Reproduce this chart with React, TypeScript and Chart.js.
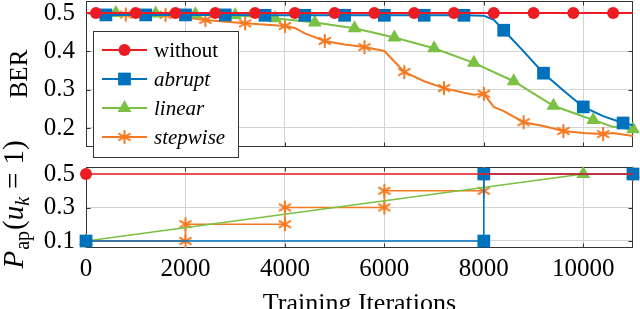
import React, { useEffect, useRef } from "react";
import { Chart, registerables } from "chart.js";
Chart.register(...registerables);

const FONT = '"Liberation Serif", "DejaVu Serif", serif';

const seriesNames = ["without", "abrupt", "linear", "stepwise"];
const seriesColors = ["#ED1C24", "#0072BD", "#7AC143", "#F47920"];

// ---- Top plot: BER vs training iterations ----
const withoutIters = [0, 200, 1000, 1800, 2600, 3400, 4200, 5000, 5800, 6600, 7400, 8200, 9000, 9800, 10600, 11000];
const withoutBer = [0.5, 0.5, 0.5, 0.5, 0.5, 0.5, 0.5, 0.5, 0.5, 0.5, 0.5, 0.5, 0.5, 0.5, 0.5, 0.5];
const withoutMarks = [200, 1000, 1800, 2600, 3400, 4200, 5000, 5800, 6600, 7400, 8200, 9000, 9800, 10600];

const abruptIters = [0, 400, 1200, 2000, 2800, 3600, 4400, 5200, 6000, 6800, 7600, 8000, 8200, 8400, 8800, 9200, 9600, 10000, 10400, 10800, 11000];
const abruptBer = [0.5, 0.495, 0.495, 0.495, 0.495, 0.494, 0.494, 0.494, 0.494, 0.494, 0.494, 0.493, 0.482, 0.455, 0.4, 0.343, 0.298, 0.255, 0.231, 0.213, 0.207];
const abruptMarks = [400, 1200, 2000, 2800, 3600, 4400, 5200, 6000, 6800, 7600, 8400, 9200, 10000, 10800];

const linearIters = [0, 600, 1400, 2200, 3000, 3800, 4600, 5400, 6200, 7000, 7800, 8600, 9400, 10200, 10600, 11000];
const linearBer = [0.5, 0.5, 0.499, 0.497, 0.494, 0.486, 0.475, 0.46, 0.436, 0.408, 0.37, 0.322, 0.258, 0.221, 0.203, 0.197];
const linearMarks = [600, 1400, 2200, 3000, 3800, 4600, 5400, 6200, 7000, 7800, 8600, 9400, 10200, 11000];

const stepwiseIters = [0, 800, 1600, 2400, 3200, 4000, 4200, 4400, 4800, 5200, 5600, 6000, 6400, 6800, 7200, 7600, 7800, 8000, 8200, 8400, 8800, 9200, 9600, 10000, 10400, 10600, 11000];
const stepwiseBer = [0.5, 0.496, 0.495, 0.482, 0.473, 0.466, 0.461, 0.447, 0.427, 0.418, 0.411, 0.401, 0.346, 0.322, 0.304, 0.292, 0.287, 0.289, 0.255, 0.244, 0.215, 0.205, 0.192, 0.187, 0.184, 0.187, 0.179];
const stepwiseMarks = [800, 1600, 2400, 3200, 4000, 4800, 5600, 6400, 7200, 8000, 8800, 9600, 10400];

// ---- Bottom plot: P_ap(u_k = 1) schedules ----
const withoutPIters = [0, 11000];
const withoutP = [0.5, 0.5];
const abruptPIters = [0, 8000, 8000, 11000];
const abruptP = [0.1, 0.1, 0.5, 0.5];
const linearPIters = [0, 10000, 11000];
const linearP = [0.1, 0.5, 0.5];
const stepwisePIters = [0, 2000, 2000, 4000, 4000, 6000, 6000, 8000, 8000, 11000];
const stepwiseP = [0.1, 0.1, 0.2, 0.2, 0.3, 0.3, 0.4, 0.4, 0.5, 0.5];

const xTicks = [0, 2000, 4000, 6000, 8000, 10000];
const berTicks = [0.2, 0.3, 0.4, 0.5];
const pGridTicks = [0.1, 0.2, 0.3, 0.4, 0.5];
const pLabelTicks = [0.1, 0.3, 0.5];

const GRID = "#d4d4d4";
const FRAME = "#333333";

function makeStar(color: string): HTMLCanvasElement {
  const c = document.createElement("canvas");
  c.width = 16;
  c.height = 16;
  const g = c.getContext("2d")!;
  g.strokeStyle = color;
  g.lineWidth = 2;
  g.lineCap = "round";
  const r = 6.2;
  for (let i = 0; i < 3; i++) {
    const a = Math.PI / 2 + (i * Math.PI) / 3;
    g.beginPath();
    g.moveTo(8 + r * Math.cos(a), 8 + r * Math.sin(a));
    g.lineTo(8 - r * Math.cos(a), 8 - r * Math.sin(a));
    g.stroke();
  }
  return c;
}

function pts(xs: number[], ys: number[]) {
  return xs.map((x, i) => ({ x, y: ys[i] }));
}

const framePlugin = {
  id: "frame",
  beforeDatasetsDraw(chart: any) {
    const { ctx, chartArea: a } = chart;
    const L = Math.round(a.left) + 0.5;
    const T = Math.round(a.top) + 0.5;
    const R = Math.round(a.right) - 0.5;
    const B = Math.round(a.bottom) - 0.5;
    ctx.save();
    ctx.strokeStyle = FRAME;
    ctx.lineWidth = 1;
    ctx.strokeRect(L, T, R - L, B - T);
    // inward tick marks
    const tl = 4;
    ctx.beginPath();
    chart.scales.y.ticks.forEach((t: any) => {
      const y = Math.round(chart.scales.y.getPixelForValue(t.value)) + 0.5;
      ctx.moveTo(L, y);
      ctx.lineTo(L + tl, y);
      ctx.moveTo(R, y);
      ctx.lineTo(R - tl, y);
    });
    chart.scales.x.ticks.forEach((t: any) => {
      const x = Math.round(chart.scales.x.getPixelForValue(t.value)) + 0.5;
      ctx.moveTo(x, T);
      ctx.lineTo(x, T + tl);
      ctx.moveTo(x, B);
      ctx.lineTo(x, B - tl);
    });
    ctx.stroke();
    ctx.restore();
  },
};

export default function App() {
  const topRef = useRef<HTMLCanvasElement>(null);
  const botRef = useRef<HTMLCanvasElement>(null);

  useEffect(() => {
    const star = makeStar(seriesColors[3]);
    const styles = ["circle", "rect", "triangle", star] as any[];
    const radii = [6, 9, 8, 6];

    const topSeries = [
      [withoutIters, withoutBer, withoutMarks],
      [abruptIters, abruptBer, abruptMarks],
      [linearIters, linearBer, linearMarks],
      [stepwiseIters, stepwiseBer, stepwiseMarks],
    ] as [number[], number[], number[]][];

    const topDatasets = topSeries.map(([xs, ys, marks], i) => ({
      label: seriesNames[i],
      data: pts(xs, ys),
      borderColor: seriesColors[i],
      backgroundColor: seriesColors[i],
      borderWidth: 2,
      pointStyle: styles[i],
      pointRadius: (c: any) => (c.raw && marks.includes(c.raw.x) ? radii[i] : 0),
      pointBorderWidth: 0,
      pointHoverRadius: 0,
      tension: 0,
      clip: false as any,
    }));

    const botSeries = [
      [withoutPIters, withoutP, [0]],
      [abruptPIters, abruptP, abruptPIters],
      [linearPIters, linearP, linearPIters],
      [stepwisePIters, stepwiseP, stepwisePIters],
    ] as [number[], number[], number[]][];

    const botDatasets = botSeries.map(([xs, ys, marks], i) => ({
      label: seriesNames[i],
      data: pts(xs, ys),
      borderColor: seriesColors[i],
      backgroundColor: seriesColors[i],
      borderWidth: 1.6,
      pointStyle: styles[i],
      pointRadius: (c: any) => (c.raw && marks.includes(c.raw.x) ? radii[i] : 0),
      pointBorderWidth: 0,
      pointHoverRadius: 0,
      tension: 0,
      clip: false as any,
    }));

    const legendPlugin = {
      id: "customLegend",
      afterDraw(chart: any) {
        const ctx = chart.ctx as CanvasRenderingContext2D;
        const bx = 93, by = 31, bw = 145, bh = 126;
        ctx.save();
        ctx.fillStyle = "#ffffff";
        ctx.fillRect(bx, by, bw, bh);
        ctx.strokeStyle = FRAME;
        ctx.lineWidth = 1;
        ctx.strokeRect(bx + 0.5, by + 0.5, bw, bh);
        const rows = [50, 79, 108, 137];
        chart.data.datasets.forEach((ds: any, i: number) => {
          const y = rows[i];
          ctx.strokeStyle = ds.borderColor;
          ctx.lineWidth = 2;
          ctx.beginPath();
          ctx.moveTo(102, y);
          ctx.lineTo(147, y);
          ctx.stroke();
          const cx = 124.5;
          ctx.fillStyle = ds.backgroundColor;
          const st = styles[i];
          const r = radii[i];
          ctx.beginPath();
          if (st === "circle") {
            ctx.arc(cx, y, r, 0, Math.PI * 2);
            ctx.fill();
          } else if (st === "rect") {
            const s = r * Math.SQRT1_2;
            ctx.fillRect(cx - s, y - s, 2 * s, 2 * s);
          } else if (st === "triangle") {
            ctx.moveTo(cx, y - r);
            ctx.lineTo(cx + r * 0.866, y + r * 0.5);
            ctx.lineTo(cx - r * 0.866, y + r * 0.5);
            ctx.closePath();
            ctx.fill();
          } else {
            ctx.drawImage(st, cx - st.width / 2, y - st.height / 2);
          }
          ctx.fillStyle = "#000";
          ctx.font = (i === 0 ? "" : "italic ") + "21px " + FONT;
          ctx.textBaseline = "middle";
          ctx.textAlign = "left";
          ctx.fillText(ds.label, 154, y + 1);
        });
        // y title
        ctx.save();
        ctx.translate(27, (chart.chartArea.top + chart.chartArea.bottom) / 2);
        ctx.rotate(-Math.PI / 2);
        ctx.font = "25px " + FONT;
        ctx.fillStyle = "#000";
        ctx.textAlign = "center";
        ctx.textBaseline = "alphabetic";
        ctx.fillText("BER", 0, 0);
        ctx.restore();
        ctx.restore();
      },
    };

    const botTitles = {
      id: "botTitles",
      afterDraw(chart: any) {
        const ctx = chart.ctx as CanvasRenderingContext2D;
        const a = chart.chartArea;
        ctx.save();
        ctx.fillStyle = "#000";
        ctx.font = "26px " + FONT;
        ctx.textAlign = "center";
        ctx.textBaseline = "alphabetic";
        ctx.fillText("Training Iterations", (a.left + a.right) / 2, 311);
        // rotated math label P_ap(u_k = 1)
        const parts = [
          { t: "P", f: "italic 29px " + FONT, dy: 0, gap: 1 },
          { t: "ap", f: "20px " + FONT, dy: 6, gap: 1 },
          { t: "(", f: "29px " + FONT, dy: 0, gap: 0 },
          { t: "u", f: "italic 29px " + FONT, dy: 0, gap: 0 },
          { t: "k", f: "italic 20px " + FONT, dy: 6, gap: 8 },
          { t: "=", f: "29px " + FONT, dy: 0, gap: 8 },
          { t: "1", f: "29px " + FONT, dy: 0, gap: 0 },
          { t: ")", f: "29px " + FONT, dy: 0, gap: 0 },
        ];
        let total = 0;
        const widths = parts.map((p) => {
          ctx.font = p.f;
          const w = ctx.measureText(p.t).width;
          total += w + p.gap;
          return w;
        });
        ctx.translate(23, (a.top + a.bottom) / 2 - 3);
        ctx.rotate(-Math.PI / 2);
        ctx.textAlign = "left";
        let x = -total / 2;
        parts.forEach((p, i) => {
          ctx.font = p.f;
          ctx.fillText(p.t, x, p.dy);
          x += widths[i] + p.gap;
        });
        ctx.restore();
      },
    };

    const commonX = (showLabels: boolean) => ({
      type: "linear" as const,
      min: 0,
      max: 11000,
      afterBuildTicks: (s: any) => {
        s.ticks = xTicks.map((v) => ({ value: v }));
      },
      afterFit: (s: any) => {
        s.height = showLabels ? 61 : 0;
        s.paddingLeft = 0;
        s.paddingRight = 0;
      },
      grid: { color: GRID, lineWidth: 1, drawTicks: false },
      border: { display: false },
      ticks: {
        display: showLabels,
        font: { family: FONT, size: 25 },
        color: "#000",
        padding: 6,
        maxRotation: 0,
        autoSkip: false,
        callback: (v: any) => String(v),
      },
    });

    const commonY = (min: number, max: number, gridTicks: number[], labelTicks: number[]) => ({
      type: "linear" as const,
      min,
      max,
      afterBuildTicks: (s: any) => {
        s.ticks = gridTicks.map((v) => ({ value: v }));
      },
      afterFit: (s: any) => {
        s.width = 86;
        s.paddingTop = 0;
        s.paddingBottom = 0;
      },
      grid: { color: GRID, lineWidth: 1, drawTicks: false },
      border: { display: false },
      ticks: {
        font: { family: FONT, size: 25 },
        color: "#000",
        padding: 11,
        callback: (v: any) => {
          const n = Number(v);
          return labelTicks.some((t) => Math.abs(t - n) < 1e-6) ? n.toFixed(1) : "";
        },
      },
    });

    const topChart = new Chart(topRef.current!, {
      type: "line",
      data: { datasets: topDatasets as any },
      options: {
        responsive: false,
        animation: false,
        events: [],
        layout: { autoPadding: false, padding: { left: 0, right: 7, top: 1, bottom: 162 } },
        plugins: { legend: { display: false }, tooltip: { enabled: false } },
        scales: {
          x: commonX(false) as any,
          y: commonY(0.1504, 0.5313, berTicks, berTicks) as any,
        },
      },
      plugins: [framePlugin, legendPlugin],
    });

    const botChart = new Chart(botRef.current!, {
      type: "line",
      data: { datasets: botDatasets as any },
      options: {
        responsive: false,
        animation: false,
        events: [],
        layout: { autoPadding: false, padding: { left: 0, right: 7, top: 167, bottom: 0 } },
        plugins: { legend: { display: false }, tooltip: { enabled: false } },
        scales: {
          x: commonX(true) as any,
          y: commonY(0.0582, 0.5418, pGridTicks, pLabelTicks) as any,
        },
      },
      plugins: [framePlugin, botTitles],
    });

    return () => {
      topChart.destroy();
      botChart.destroy();
    };
  }, []);

  return (
    <div style={{ position: "absolute", left: 0, top: 0, width: 640, height: 309, background: "#fff", overflow: "hidden" }}>
      <canvas ref={botRef} width={640} height={309} style={{ position: "absolute", left: 0, top: 0 }} />
      <canvas ref={topRef} width={640} height={309} style={{ position: "absolute", left: 0, top: 0 }} />
    </div>
  );
}
